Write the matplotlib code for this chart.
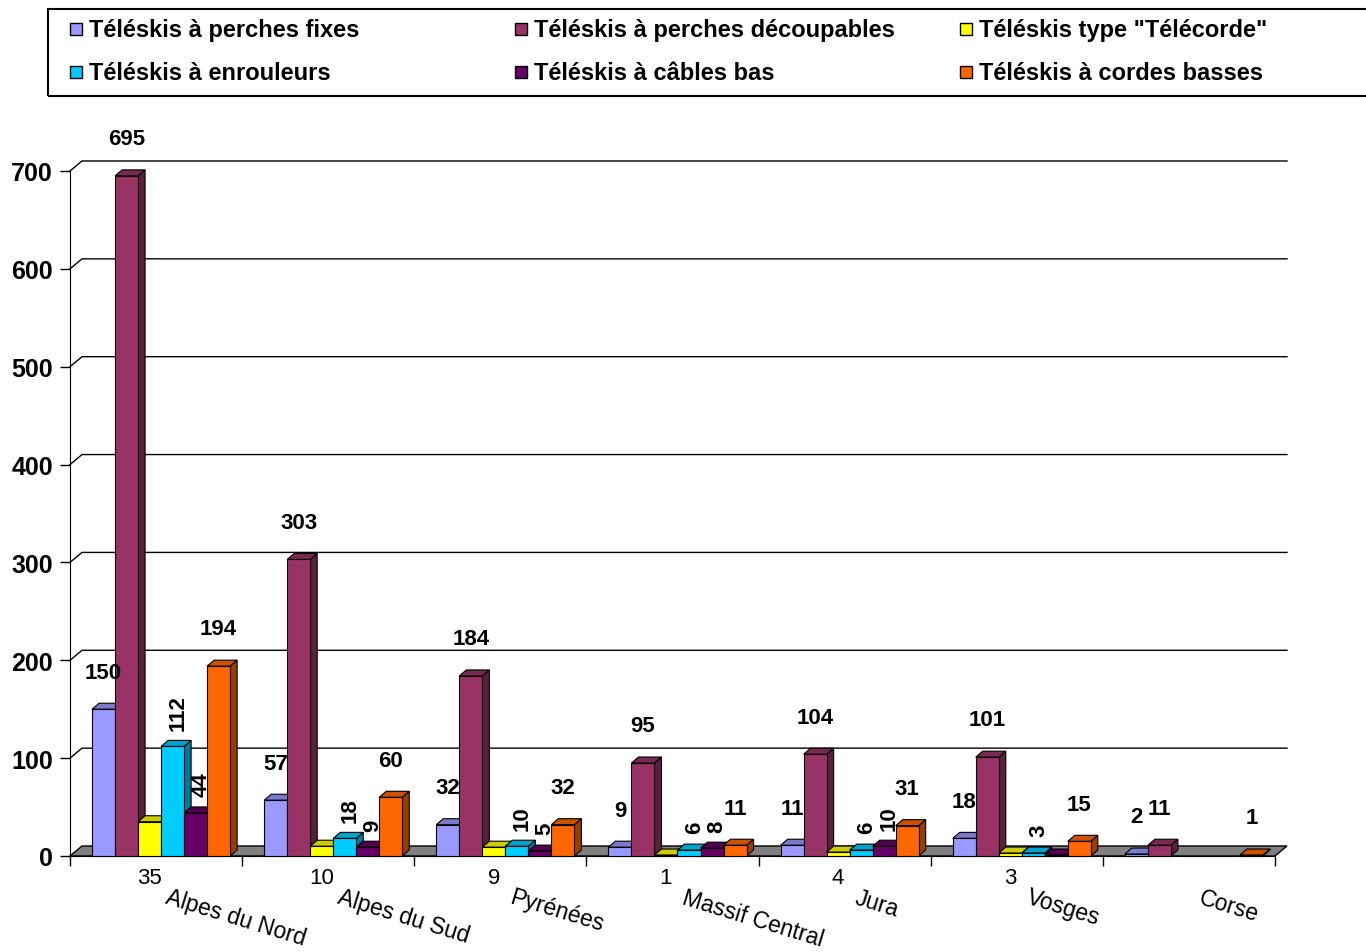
import matplotlib
matplotlib.use('Agg')
import matplotlib.pyplot as plt
from matplotlib.patches import Polygon, Rectangle
from matplotlib.colors import to_rgb

plt.rcParams['font.family'] = ['Liberation Sans', 'DejaVu Sans']

### Data
regions = ['Alpes du Nord', 'Alpes du Sud', 'Pyrénées', 'Massif Central', 'Jura', 'Vosges', 'Corse']
series = ['Téléskis à perches fixes', 'Téléskis à perches découpables', 'Téléskis type "Télécorde"',
          'Téléskis à enrouleurs', 'Téléskis à câbles bas', 'Téléskis à cordes basses']
perches_fixes = [150, 57, 32, 9, 11, 18, 2]
perches_decoupables = [695, 303, 184, 95, 104, 101, 11]
telecorde = [35, 10, 9, 1, 4, 3, None]
enrouleurs = [112, 18, 10, 6, 6, 3, None]
cables_bas = [44, 9, 5, 8, 10, 1, None]
cordes_basses = [194, 60, 32, 11, 31, 15, 1]
values = [perches_fixes, perches_decoupables, telecorde, enrouleurs, cables_bas, cordes_basses]
colors = ['#9999FF', '#993366', '#FFFF00', '#00CCFF', '#660066', '#FF6600']
# labels Excel did not show
hidden_labels = [('Vosges', 'Téléskis à câbles bas')]
yticks = list(range(0, 701, 100))

### Layout (pixels of the 1366x953 picture)
W, H = 1366, 953
X0, Y0 = 70, 857            # pixel of (0, 0)
GROUP_PX, UNIT_PX = 172.14, 0.9786
L, R, T, B = 60, 1300, 140, 870

fig = plt.figure(figsize=(W / 100, H / 100), dpi=100)
ax = fig.add_axes([L / W, 1 - B / H, (R - L) / W, (B - T) / H])
ax.set_xlim((L - X0) / GROUP_PX, (R - X0) / GROUP_PX)
ax.set_ylim((Y0 - B) / UNIT_PX, (Y0 - T) / UNIT_PX)

wall_dx, wall_dy = 12 / GROUP_PX, 10 / UNIT_PX
bar_dx, bar_dy = 7 / GROUP_PX, 6 / UNIT_PX
n = len(regions)


def shade(c, f):
    r, g, b = to_rgb(c)
    return (r * f, g * f, b * f)


# floor and back wall grid
ax.add_patch(Polygon([(0, 0), (n, 0), (n + wall_dx, wall_dy), (wall_dx, wall_dy)],
                     closed=True, fc='#808080', ec='k', lw=1, zorder=1))
for v in yticks[1:]:
    ax.plot([0, wall_dx, n + wall_dx], [v, v + wall_dy, v + wall_dy], color='k', lw=1, zorder=1)

# bars
offset, width = 0.128, 0.1337
z = 3
for g in range(n):
    for i, vals in enumerate(values):
        v = vals[g]
        if v is None:
            continue
        xl = g + offset + i * width
        xr = xl + width
        c = colors[i]
        ax.add_patch(Polygon([(xr, 0), (xr + bar_dx, bar_dy), (xr + bar_dx, v + bar_dy), (xr, v)],
                             closed=True, fc=shade(c, 0.6), ec='k', lw=0.8, zorder=z))
        ax.add_patch(Polygon([(xl, v), (xl + bar_dx, v + bar_dy), (xr + bar_dx, v + bar_dy), (xr, v)],
                             closed=True, fc=shade(c, 0.8), ec='k', lw=0.8, zorder=z))
        ax.add_patch(Rectangle((xl, 0), width, v, fc=c, ec='k', lw=0.8, zorder=z + 1))
        z += 2

        if (regions[g], series[i]) in hidden_labels:
            continue
        xc = xl + width / 2
        if i == 2:
            ax.text(xc, -22, str(v), ha='center', va='center', fontsize=16, zorder=20)
        elif i in (3, 4):
            ax.text(xc + 0.03, v + 17, str(v), ha='center', va='bottom', rotation=90,
                    fontsize=16, fontweight='bold', zorder=20)
        else:
            ax.text(xc, v + 38, str(v), ha='center', va='center', fontsize=16, fontweight='bold', zorder=20)

# category labels
for g, name in enumerate(regions):
    ax.text(g + 0.5 + 0.08, -30, name, rotation=-17, rotation_mode='anchor', ha='left', va='top',
            fontsize=16.5)

### Axes
for s in ('top', 'right'):
    ax.spines[s].set_visible(False)
ax.spines['left'].set_position(('data', 0))
ax.spines['left'].set_bounds(0, 700)
ax.spines['bottom'].set_position(('data', 0))
ax.spines['bottom'].set_bounds(0, n)
ax.spines['left'].set_zorder(2)
ax.set_xticks(range(n + 1))
ax.set_xticklabels([])
ax.set_yticks(yticks)
ax.set_yticklabels([str(t) for t in yticks], fontsize=18, fontweight='bold')
ax.tick_params(axis='both', direction='out', length=7.2, width=1, pad=5)
ax.patch.set_visible(False)

### Legend (Excel style fixed columns)
fig.add_artist(Rectangle((48 / W, 1 - 97 / H), (1380 - 48) / W, 87 / H, transform=fig.transFigure,
                         fill=False, ec='k', lw=1.5))
col_x = [70, 515, 960]
row_y = [30, 73]
for k, name in enumerate(series):
    cx = col_x[k % 3]
    ry = row_y[k // 3]
    fig.add_artist(Rectangle((cx / W, 1 - (ry + 6) / H), 12 / W, 12 / H, transform=fig.transFigure,
                             fc=colors[k], ec='k', lw=1))
    fig.text((cx + 19) / W, 1 - ry / H, name, ha='left', va='center', fontsize=17, fontweight='bold')

fig.savefig('out.png', dpi=100)
